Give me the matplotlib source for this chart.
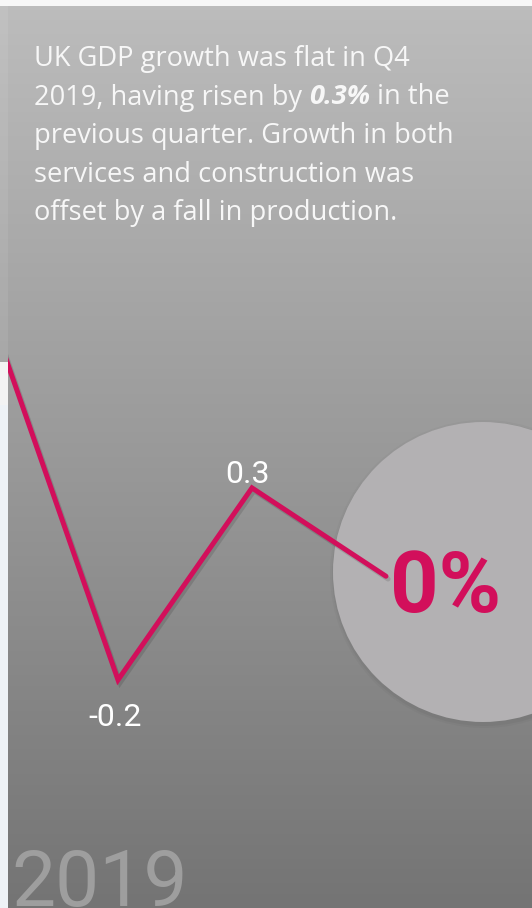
import numpy as np
import matplotlib
matplotlib.use("Agg")
import matplotlib.pyplot as plt
from matplotlib.patches import Circle, Rectangle
import matplotlib.patheffects as pe

# quarterly GDP growth, % (first point runs off the left edge)
quarters = ["Q1", "Q2", "Q3", "Q4"]
growth_pos = [0.8, -0.2, 0.3, 0.07]   # where the line sits in the picture
point_labels = ["", "-0.2", "0.3", "0%"]
year = "2019"
para = ["UK GDP growth was flat in Q4",
        "2019, having risen by ",
        "previous quarter. Growth in both",
        "services and construction was",
        "offset by a fall in production."]
highlight = "0.3%"
after_highlight = " in the"

W, H = 532, 908
fig = plt.figure(figsize=(W / 100, H / 100), dpi=100)
fig.patch.set_facecolor("#f7f7f7")

# background panel in pixel coords
bg = fig.add_axes([0, 0, 1, 1])
bg.axis("off")
grad = np.linspace(0, 1, 256)[:, None]
cmap = matplotlib.colors.LinearSegmentedColormap.from_list("g", ["#bcbcbc", "#999999", "#747474"])
bg.imshow(grad, cmap=cmap, extent=(0, W, H, 6), aspect="auto", zorder=0)
bg.set_xlim(0, W)
bg.set_ylim(H, 0)

# big circle with a soft shadow
for r, a in [(154, 0.025), (152, 0.035)]:
    bg.add_patch(Circle((484, 574), r, color="black", alpha=a, lw=0, zorder=2))
bg.add_patch(Circle((483, 572), 150, color="#b3b1b3", lw=0, zorder=3))

bg.text(11, 906, year, fontsize=56.5, color="#9e9e9e", family="Roboto",
        va="baseline", ha="left", zorder=4)

# paragraph
fs = 19.6
y0, dy = 66, 38.5
r = fig.canvas.get_renderer()
for i, line in enumerate(para):
    t = bg.text(34, y0 + i * dy, line, fontsize=fs, color="#f7f7f7", family="Open Sans",
                va="baseline", ha="left")
    if i == 1:
        bb = t.get_window_extent(renderer=r)
        t2 = fig.text(bb.x1 / W, 1 - (y0 + i * dy) / H, highlight, fontsize=fs, color="#f7f7f7",
                      family="Open Sans", weight="bold", style="italic", va="baseline", ha="left")
        bb2 = t2.get_window_extent(renderer=r)
        fig.text(bb2.x1 / W, 1 - (y0 + i * dy) / H, after_highlight, fontsize=fs,
                 color="#f7f7f7", family="Open Sans", va="baseline", ha="left")

# line chart
ax = fig.add_axes([8 / W, 0, (W - 8) / W, (H - 6) / H])
ax.patch.set_alpha(0)
ax.axis("off")
x = np.arange(len(quarters))
ax.plot(x, growth_pos, color="#d20f5b", lw=3.6, solid_joinstyle="miter", solid_capstyle="round",
        path_effects=[pe.SimpleLineShadow(offset=(1.5, -2), alpha=0.12), pe.Normal()])
ax.set_xlim(0.179, 4.090)
ax.set_ylim(-0.794, 1.555)

lab_font = dict(family="Roboto", color="white", fontsize=23, va="baseline")
ax.annotate(point_labels[1], (x[1], growth_pos[1]), xytext=(-3, -46), textcoords="offset pixels",
            ha="center", **lab_font)
ax.annotate(point_labels[2], (x[2], growth_pos[2]), xytext=(-4, 5), textcoords="offset pixels",
            ha="center", **lab_font)
ax.annotate(point_labels[3], (x[3], growth_pos[3]), xytext=(4, -36), textcoords="offset pixels",
            ha="left", family="Roboto", weight="bold", color="#d20f5b", fontsize=61, va="baseline")

# thin strip down the left edge
strip = fig.add_axes([0, 0, 8 / W, 1])
strip.axis("off")
strip.imshow(grad, cmap=cmap, extent=(0, 8, H, 6), aspect="auto", zorder=0)
strip.add_patch(Rectangle((0, 6), 8, 356, color="white", alpha=0.08, lw=0, zorder=1))
strip.add_patch(Rectangle((0, 362), 8, 43, color="#f3f3f3", lw=0, zorder=1))
strip.add_patch(Rectangle((0, 405), 8, H - 405, color="#eef2f6", lw=0, zorder=1))
strip.set_xlim(0, 8)
strip.set_ylim(H, 0)

fig.savefig("out.png", dpi=100)
